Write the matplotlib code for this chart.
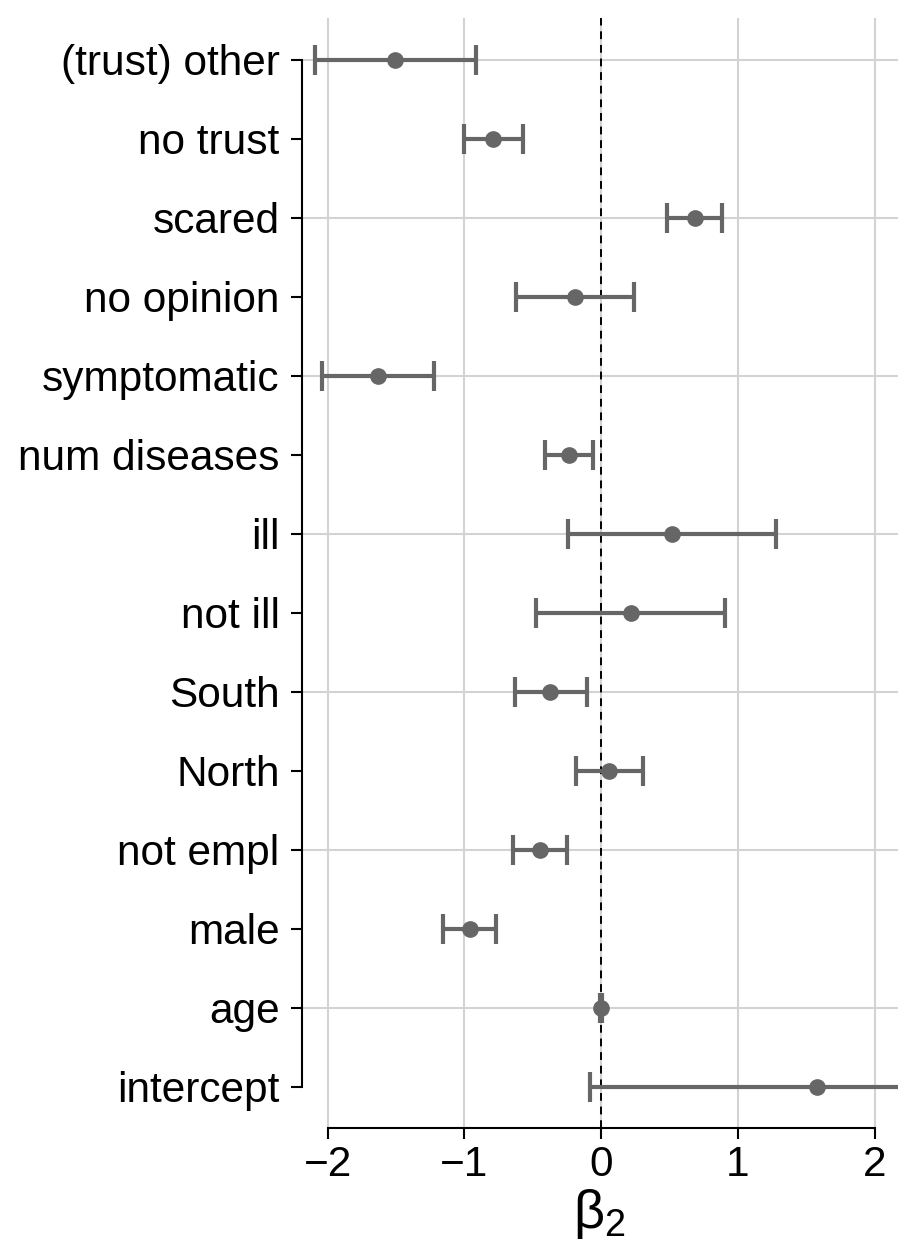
import numpy as np
import matplotlib
matplotlib.use("Agg")
import matplotlib.pyplot as plt

plt.rcParams['font.family'] = ['Liberation Sans', 'DejaVu Sans']
plt.rcParams['mathtext.fontset'] = 'custom'
plt.rcParams['mathtext.rm'] = 'Liberation Sans'
plt.rcParams['mathtext.it'] = 'Liberation Sans:italic'

# Coefficient estimates with lower / upper interval bounds
labels = ["(trust) other", "no trust", "scared", "no opinion", "symptomatic",
          "num diseases", "ill", "not ill", "South", "North", "not empl",
          "male", "age", "intercept"]
estimate = [-1.505, -0.792, 0.682, -0.192, -1.635, -0.238, 0.520, 0.215,
            -0.371, 0.057, -0.447, -0.959, 0.000, 1.578]
lower = [-2.090, -1.000, 0.484, -0.622, -2.042, -0.413, -0.243, -0.475,
         -0.631, -0.187, -0.642, -1.154, -0.006, -0.079]
upper = [-0.914, -0.574, 0.880, 0.240, -1.222, -0.062, 1.281, 0.902,
         -0.107, 0.306, -0.249, -0.767, 0.006, 3.235]
xticks = [-2, -1, 0, 1, 2]

est = np.array(estimate)
lo = np.array(lower)
hi = np.array(upper)
ypos = np.arange(len(labels))

fig = plt.figure(figsize=(8.98, 12.47), dpi=100)
ax = fig.add_axes([0.336, 0.0954, 0.664, 0.8902])

grid_col = '#d3d3d3'
for x in xticks:
    ax.axvline(x, color=grid_col, lw=1.5, zorder=0)
for y in ypos[::2]:
    ax.axhline(y, color=grid_col, lw=1.5, zorder=0)

ax.axvline(0, color='black', lw=1.4, ls=(0, (4, 3)), zorder=1)

ax.errorbar(est, ypos, xerr=[est - lo, hi - est], fmt='o', color='#666666',
            ecolor='#666666', elinewidth=3.0, capsize=10.5, capthick=3.0,
            markersize=11, zorder=3)

ax.set_xlim(-2.19, 2.17)
ax.set_ylim(13.52, -0.53)
ax.set_yticks(ypos)
ax.set_yticklabels(labels)
ax.set_xticks(xticks)
ax.set_xticklabels(["\u22122", "\u22121", "0", "1", "2"])

for s in ['top', 'right']:
    ax.spines[s].set_visible(False)
ax.spines['left'].set_bounds(0, len(labels) - 1)
ax.spines['bottom'].set_bounds(-2, 2)
for s in ['left', 'bottom']:
    ax.spines[s].set_linewidth(1.5)

ax.tick_params(axis='both', labelsize=30.5, length=8, width=1.5, direction='out')
ax.tick_params(axis='y', pad=8)
ax.tick_params(axis='x', pad=4)

ax.set_xlabel(r'$\mathregular{\beta_2}$', fontsize=39, labelpad=2)

fig.savefig("out.png", dpi=100)
